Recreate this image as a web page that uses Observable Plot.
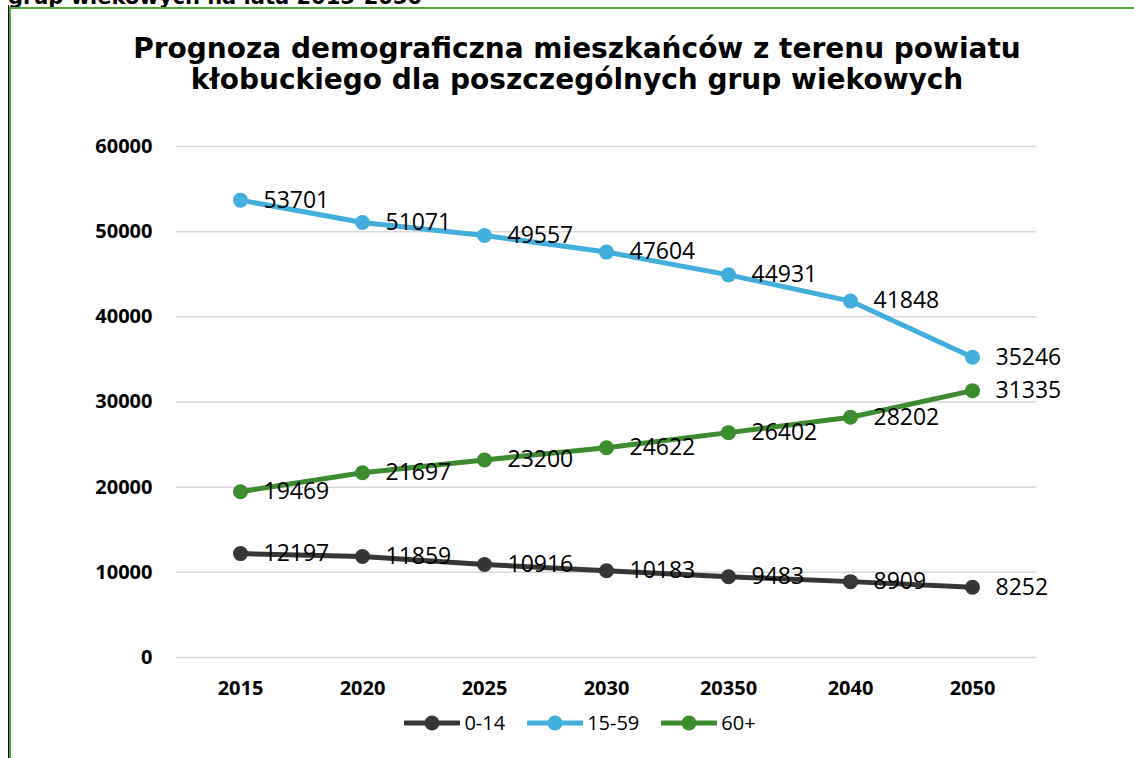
<!DOCTYPE html>
<html>
<head>
<meta charset="utf-8">
<script src="https://cdn.jsdelivr.net/npm/d3@7"></script>
<script src="https://cdn.jsdelivr.net/npm/@observablehq/plot@0.6"></script>
<style>
  html, body { margin: 0; padding: 0; background: #fff; }
  body { width: 1134px; height: 758px; position: relative; overflow: hidden; }
  .cut { position: absolute; left: 8px; top: -15px; font: bold 21px/24px "DejaVu Sans", sans-serif; color: #000; white-space: nowrap; }
  .bline { position: absolute; left: 7.5px; top: 5px; width: 1.5px; height: 800px; background: #000; }
  .box { position: absolute; left: 9px; top: 7px; width: 1200px; height: 800px; border-left: 2px solid #52a640; border-top: 2px solid #52a640; background: #fff; }
  .title { position: absolute; left: 0; width: 1154px; top: 33px; text-align: center; font: bold 28px/31px "DejaVu Sans", sans-serif; color: #000; }
  #chart { position: absolute; left: 0; top: 110px; }
  .legend { position: absolute; left: 0; width: 1160px; top: 710px; display: flex; justify-content: center; align-items: center; font: 20px/26px "Open Sans", sans-serif; color: #000; }
  .item { display: flex; align-items: center; margin: 0 11px; }
  .item svg { margin-right: 4px; }
</style>
</head>
<body>
<div class="cut">grup wiekowych na lata 2015-2050</div>
<div class="bline"></div>
<div class="box"></div>
<div class="title">Prognoza demograficzna mieszkańców z terenu powiatu<br>kłobuckiego dla poszczególnych grup wiekowych</div>
<div id="chart"></div>
<div class="legend" id="legend"></div>
<script>
const years = ["2015", "2020", "2025", "2030", "20350", "2040", "2050"];
const seriesNames = ["0-14", "15-59", "60+"];
const age0_14 = [12197, 11859, 10916, 10183, 9483, 8909, 8252];
const age15_59 = [53701, 51071, 49557, 47604, 44931, 41848, 35246];
const age60plus = [19469, 21697, 23200, 24622, 26402, 28202, 31335];
const yTicks = [0, 10000, 20000, 30000, 40000, 50000, 60000];
const colors = ["#363636", "#41aedb", "#3c8b2e"];

const values = [age0_14, age15_59, age60plus];
const data = [];
seriesNames.forEach((s, i) => years.forEach((y, j) => data.push({series: s, year: y, value: values[i][j]})));

const chart = Plot.plot({
  width: 1134,
  height: 600,
  marginLeft: 176,
  marginRight: 98,
  marginTop: 36,
  marginBottom: 53,
  style: {fontFamily: "'Open Sans', sans-serif", background: "transparent"},
  x: {type: "point", domain: years, padding: 0.5, label: null},
  y: {domain: [0, 60000], label: null},
  color: {domain: seriesNames, range: colors},
  marks: [
    Plot.ruleY(yTicks, {stroke: "#d9d9d9", strokeWidth: 1.5}),
    Plot.axisY(yTicks, {tickSize: 0, tickPadding: 24, tickFormat: d => String(d), fontSize: 20, fontWeight: "bold", fill: "#000", label: null}),
    Plot.axisX({tickSize: 0, tickPadding: 23, fontSize: 20, fontWeight: "bold", fill: "#000", label: null}),
    Plot.line(data, {x: "year", y: "value", z: "series", stroke: "series", strokeWidth: 5, strokeLinejoin: "round"}),
    Plot.dot(data, {x: "year", y: "value", fill: "series", r: 7.5}),
    Plot.text(data, {x: "year", y: "value", text: d => String(d.value), textAnchor: "start", dx: 23, fontSize: 23, fill: "#000"})
  ]
});
document.getElementById("chart").appendChild(chart);

const legend = document.getElementById("legend");
seriesNames.forEach((s, i) => {
  const item = document.createElement("div");
  item.className = "item";
  item.innerHTML = `<svg width="56" height="18"><line x1="1" y1="9" x2="55" y2="9" stroke="${colors[i]}" stroke-width="5" stroke-linecap="round"/><circle cx="28" cy="9" r="7.5" fill="${colors[i]}"/></svg><span>${s}</span>`;
  legend.appendChild(item);
});
</script>
</body>
</html>
